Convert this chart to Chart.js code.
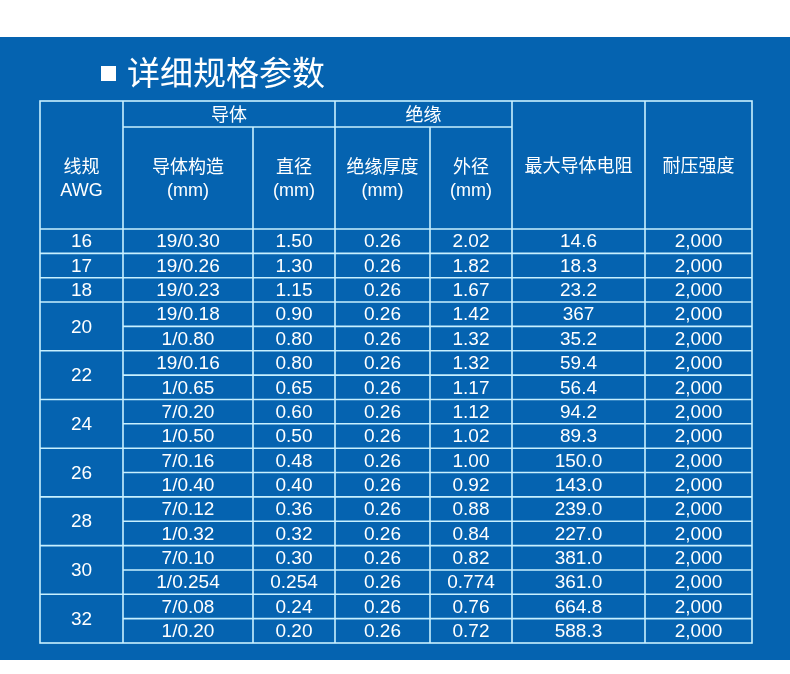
<!DOCTYPE html>
<html><head><meta charset="utf-8">
<script src="https://cdn.jsdelivr.net/npm/chart.js@4"></script>
<style>html,body{margin:0;padding:0;background:#fff;}#wrap{position:absolute;left:0;top:0;width:790px;height:674px;}</style>
</head><body><div id="wrap"><canvas id="c"></canvas></div>
<script>
const title = "详细规格参数";
const groupHeaders = ["导体", "绝缘"];
const headers = [["线规","AWG"],["导体构造","(mm)"],["直径","(mm)"],["绝缘厚度","(mm)"],["外径","(mm)"],["最大导体电阻"],["耐压强度"]];
const awg = ["16","17","18","20","22","24","26","28","30","32"];
const awgSpan = [1,1,1,2,2,2,2,2,2,2];
const construction = ["19/0.30","19/0.26","19/0.23","19/0.18","1/0.80","19/0.16","1/0.65","7/0.20","1/0.50","7/0.16","1/0.40","7/0.12","1/0.32","7/0.10","1/0.254","7/0.08","1/0.20"];
const diameter = ["1.50","1.30","1.15","0.90","0.80","0.80","0.65","0.60","0.50","0.48","0.40","0.36","0.32","0.30","0.254","0.24","0.20"];
const insThick = ["0.26","0.26","0.26","0.26","0.26","0.26","0.26","0.26","0.26","0.26","0.26","0.26","0.26","0.26","0.26","0.26","0.26"];
const outerDia = ["2.02","1.82","1.67","1.42","1.32","1.32","1.17","1.12","1.02","1.00","0.92","0.88","0.84","0.82","0.774","0.76","0.72"];
const resistance = ["14.6","18.3","23.2","367","35.2","59.4","56.4","94.2","89.3","150.0","143.0","239.0","227.0","381.0","361.0","664.8","588.3"];
const voltage = ["2,000","2,000","2,000","2,000","2,000","2,000","2,000","2,000","2,000","2,000","2,000","2,000","2,000","2,000","2,000","2,000","2,000"];

const colEdges = [40,123,253,335,430,512,645,752];
const yTop = 101, yGroup = 127, yHead = 229, yBot = 643;
const FONT = '"Liberation Sans", Arial, "Noto Sans CJK SC", sans-serif';
const CJK = '"Noto Sans CJK SC", sans-serif';

const tablePlugin = {
  id: 'table',
  beforeDraw(chart) {
    const ctx = chart.ctx;
    ctx.save();
    ctx.fillStyle = '#fff';
    ctx.fillRect(0,0,chart.width,chart.height);
    ctx.fillStyle = '#0563b0';
    ctx.fillRect(0,37,chart.width,623);
    ctx.restore();
  },
  afterDraw(chart) {
    const ctx = chart.ctx, X = chart.scales.x, Y = chart.scales.y;
    const px = v => X.getPixelForValue(v), py = v => Y.getPixelForValue(v);
    const nRows = construction.length;
    const rowH = (yBot - yHead) / nRows;
    const rowY = i => yHead + i*rowH;
    ctx.save();
    ctx.fillStyle = '#fff';
    ctx.fillRect(101, 66, 15, 15);
    ctx.font = '33px ' + CJK;
    ctx.textBaseline = 'middle';
    ctx.textAlign = 'left';
    ctx.fillText(title, 127, 72);
    ctx.strokeStyle = '#c8f0ff';
    ctx.lineWidth = 1.6;
    const line = (x1,y1,x2,y2)=>{ctx.beginPath();ctx.moveTo(px(x1),py(y1));ctx.lineTo(px(x2),py(y2));ctx.stroke();};
    ctx.strokeRect(px(colEdges[0]),py(yTop),px(colEdges[7])-px(colEdges[0]),py(yBot)-py(yTop));
    line(colEdges[1],yGroup,colEdges[5],yGroup);
    line(colEdges[0],yHead,colEdges[7],yHead);
    [1,3,5,6].forEach(c=>line(colEdges[c],yTop,colEdges[c],yBot));
    [2,4].forEach(c=>line(colEdges[c],yGroup,colEdges[c],yBot));
    let r = 0; const awgStart = [];
    awgSpan.forEach(s=>{awgStart.push(r); r+=s;});
    for (let i=1;i<nRows;i++){
      const b = awgStart.includes(i);
      line(b?colEdges[0]:colEdges[1], rowY(i), colEdges[7], rowY(i));
    }
    ctx.fillStyle = '#fff';
    ctx.textAlign = 'center';
    ctx.textBaseline = 'middle';
    const cx = c => (px(colEdges[c])+px(colEdges[c+1]))/2;
    ctx.font = '18px ' + CJK;
    ctx.fillText(groupHeaders[0], (px(colEdges[1])+px(colEdges[3]))/2, py((yTop+yGroup)/2));
    ctx.fillText(groupHeaders[1], (px(colEdges[3])+px(colEdges[5]))/2, py((yTop+yGroup)/2));
    headers.forEach((h,c)=>{
      const top = (c===0||c>=5)?yTop:yGroup;
      const mid = (top+yHead)/2 + (c===0?13:0);
      if (h.length===1){ ctx.font='18px '+CJK; ctx.fillText(h[0], cx(c), py(mid)); }
      else {
        ctx.font='18px '+CJK; ctx.fillText(h[0], cx(c), py(mid-12));
        ctx.font='18px '+FONT; ctx.fillText(h[1], cx(c), py(mid+13));
      }
    });
    ctx.font = '19px '+FONT;
    awg.forEach((a,k)=>{
      const y0 = rowY(awgStart[k]), y1 = rowY(awgStart[k]+awgSpan[k]);
      ctx.fillText(a, cx(0), py((y0+y1)/2)+1);
    });
    const cols = [construction, diameter, insThick, outerDia, resistance, voltage];
    for (let i=0;i<nRows;i++){
      cols.forEach((arr,j)=>ctx.fillText(arr[i], cx(j+1), py(rowY(i)+rowH/2)+1));
    }
    ctx.restore();
  }
};

new Chart(document.getElementById('c'), {
  type: 'scatter',
  data: { datasets: [{ data: [], pointRadius: 0 }] },
  options: {
    responsive: true, maintainAspectRatio: false, animation: false,
    layout: { padding: 0 },
    plugins: { legend: { display: false }, tooltip: { enabled: false } },
    scales: {
      x: { type: 'linear', min: 0, max: 790, display: false },
      y: { type: 'linear', min: 0, max: 674, reverse: true, display: false }
    }
  },
  plugins: [tablePlugin]
});
</script></body></html>
